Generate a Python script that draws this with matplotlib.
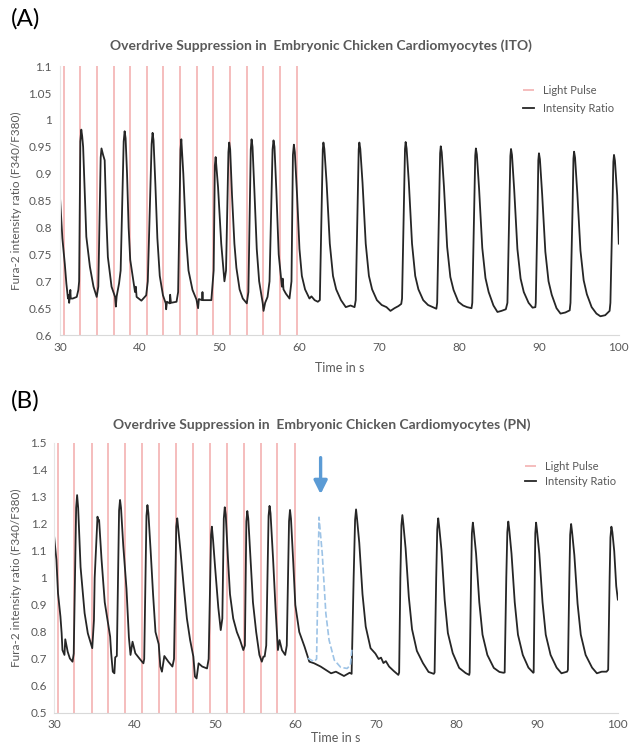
import matplotlib
matplotlib.use('Agg')
import matplotlib.pyplot as plt

plt.rcParams['font.family'] = ['Lato', 'DejaVu Sans']

# light pulse times (s)
pulses_a = [30.5, 32.54, 34.63, 36.71, 38.79, 40.88, 42.96, 45.04, 47.13, 49.21,
            51.29, 53.38, 55.46, 57.54, 59.63]
pulses_b = [30.49, 32.54, 34.71, 36.76, 38.81, 40.94, 43.03, 45.16, 47.29, 49.34,
            51.43, 53.56, 55.65, 57.74, 59.87]

# panel A (ITO) trace
time_a = [30.0, 30.3, 30.6, 30.8, 31.0, 31.1, 31.15, 31.3, 31.35, 31.6, 32.1, 32.3, 32.4,
          32.55, 32.67, 32.78, 32.9, 33.1, 33.3, 33.75, 34.2, 34.6, 34.8, 35.1, 35.2, 35.4,
          35.6, 35.8, 36.0, 36.46, 36.9, 37.0, 37.1, 37.4, 37.6, 37.98, 38.1, 38.22, 38.4,
          38.6, 38.8, 39.2, 39.4, 39.5, 39.6, 40.2, 40.8, 41.0, 41.48, 41.6, 41.72, 41.95,
          42.2, 42.5, 42.9, 43.25, 43.3, 43.4, 43.75, 43.8, 43.9, 44.6, 44.8, 45.1, 45.2,
          45.45, 45.8, 46.1, 46.6, 47.1, 47.3, 47.4, 47.8, 47.85, 47.9, 48.96, 49.25, 49.4,
          49.5, 49.8, 50.2, 50.6, 50.8, 51.1, 51.2, 51.32, 51.55, 51.85, 52.1, 52.5, 52.9,
          53.4, 53.6, 53.9, 54.0, 54.12, 54.35, 54.65, 54.95, 55.4, 55.5, 55.7, 56.0, 56.25,
          56.63, 56.75, 56.87, 57.1, 57.4, 57.7, 57.8, 57.9, 58.0, 58.3, 58.75, 59.0, 59.18,
          59.3, 59.42, 59.7, 60.0, 60.3, 60.7, 61.25, 61.5, 61.9, 62.3,
          62.55, 62.8, 62.92, 63.0, 63.12, 63.4, 63.8, 64.2, 64.6, 65.2, 65.8, 66.4, 66.9,
          67.05, 67.3, 67.42, 67.5, 67.62, 67.9, 68.3, 68.7, 69.1, 69.7, 70.3, 70.9, 71.4,
          71.9, 72.4, 72.75,
          72.85, 73.1, 73.22, 73.3, 73.42, 73.7, 74.1, 74.5, 74.9, 75.5, 76.1, 76.7, 77.15,
          77.25, 77.5, 77.62, 77.7, 77.82, 78.1, 78.5, 78.9, 79.3, 79.9, 80.5, 81.0, 81.55,
          81.65, 81.9, 82.02, 82.1, 82.22, 82.5, 82.9, 83.3, 83.7, 84.3, 84.8, 85.3, 85.85,
          86.05, 86.3, 86.42, 86.5, 86.62, 86.9, 87.3, 87.7, 88.1, 88.7, 89.2, 89.55,
          89.6, 89.82, 89.92, 90.0, 90.12, 90.4, 90.8, 91.2, 91.6, 92.2, 92.7, 93.3, 93.85,
          93.95, 94.2, 94.32, 94.4, 94.52, 94.8, 95.2, 95.6, 96.0, 96.6, 97.2, 97.7, 98.3, 98.85,
          98.95, 99.2, 99.32, 99.4, 99.52, 99.8, 100.0]
ratio_a = [0.857, 0.78, 0.733, 0.696, 0.668, 0.675, 0.66, 0.684, 0.668, 0.668, 0.671, 0.684, 0.70,
           0.96, 0.982, 0.97, 0.95, 0.864, 0.783, 0.727, 0.69, 0.671, 0.69, 0.93, 0.947, 0.935,
           0.925, 0.82, 0.745, 0.69, 0.671, 0.653, 0.672, 0.696, 0.72, 0.96, 0.979, 0.966, 0.9,
           0.8, 0.74, 0.70, 0.68, 0.69, 0.671, 0.664, 0.674, 0.70, 0.955, 0.976, 0.962, 0.88,
           0.78, 0.71, 0.674, 0.659, 0.648, 0.662, 0.659, 0.675, 0.66, 0.662, 0.68, 0.945, 0.964,
           0.9, 0.78, 0.72, 0.684, 0.666, 0.650, 0.667, 0.665, 0.68, 0.665, 0.665, 0.72, 0.915,
           0.931, 0.875, 0.77, 0.70, 0.72, 0.94, 0.958, 0.945, 0.86, 0.77, 0.725, 0.685, 0.668,
           0.659, 0.68, 0.945, 0.964, 0.95, 0.87, 0.76, 0.70, 0.659, 0.645, 0.66, 0.671, 0.70,
           0.945, 0.962, 0.95, 0.87, 0.75, 0.705, 0.69, 0.705, 0.685, 0.677, 0.668, 0.70, 0.935,
           0.954, 0.94, 0.86, 0.76, 0.71, 0.685, 0.668, 0.672, 0.665, 0.662,
           0.665, 0.85, 0.945, 0.958, 0.946, 0.883, 0.77, 0.71, 0.685, 0.665, 0.652, 0.655, 0.652,
           0.665, 0.85, 0.945, 0.958, 0.946, 0.883, 0.77, 0.71, 0.685, 0.665, 0.656, 0.652, 0.645,
           0.65, 0.654, 0.658,
           0.668, 0.85, 0.946, 0.959, 0.947, 0.884, 0.77, 0.71, 0.685, 0.665, 0.656, 0.652, 0.649,
           0.66, 0.845, 0.938, 0.951, 0.94, 0.876, 0.764, 0.708, 0.684, 0.662, 0.655, 0.652, 0.65,
           0.66, 0.84, 0.934, 0.947, 0.936, 0.872, 0.762, 0.706, 0.68, 0.655, 0.643, 0.645, 0.648,
           0.66, 0.84, 0.933, 0.946, 0.935, 0.87, 0.76, 0.705, 0.68, 0.66, 0.651, 0.652,
           0.66, 0.83, 0.925, 0.938, 0.927, 0.862, 0.755, 0.70, 0.675, 0.65, 0.64, 0.642, 0.646,
           0.66, 0.83, 0.928, 0.941, 0.93, 0.865, 0.757, 0.702, 0.676, 0.652, 0.64, 0.635, 0.637, 0.645,
           0.66, 0.83, 0.922, 0.935, 0.924, 0.86, 0.77]

# panel B (PN) trace
time_b = [30.0, 30.3, 30.5, 30.8, 30.95, 31.05, 31.3, 31.4, 31.7, 31.97, 32.3, 32.45, 32.75,
          32.87, 33.0, 33.3, 33.45, 33.8, 34.2, 34.75, 34.96, 35.05, 35.4, 35.5, 35.6, 35.9, 36.3,
          36.7, 36.97, 37.1, 37.3, 37.5, 37.6, 37.8, 38.08, 38.2, 38.32, 38.6, 39.0, 39.3, 39.5,
          39.75, 40.1, 40.6, 41.1, 41.2, 41.48, 41.6, 41.72, 42.0, 42.3, 42.6, 43.0, 43.2, 43.4,
          43.7, 44.2, 44.7, 44.9, 45.18, 45.3, 45.7, 46.1, 46.5, 46.9, 47.3, 47.5, 47.7, 47.95,
          48.4, 49.0, 49.2, 49.5, 49.6, 49.75, 50.0, 50.4, 50.7, 50.9, 51.08, 51.2, 51.32, 51.6,
          51.85, 52.25, 52.7, 53.1, 53.5, 53.7, 53.88, 54.0, 54.12, 54.4, 54.7, 55.1, 55.5, 55.8,
          56.0, 56.15, 56.35, 56.64, 56.76, 56.88, 57.2, 57.5, 57.8, 58.0, 58.3, 58.7, 58.9,
          59.18, 59.3, 59.42, 59.7, 59.96, 60.45, 61.1, 61.7, 62.3, 63.1, 64.4, 65.0, 66.0,
          66.7, 66.95,
          67.2, 67.38, 67.5, 67.62, 67.9, 68.3, 68.7, 69.3, 69.9, 70.3, 70.6, 70.9, 71.2, 71.6,
          72.2, 72.75,
          72.85, 73.0, 73.13, 73.25, 73.37, 73.65, 74.05, 74.45, 75.05, 75.8, 76.5, 77.15,
          77.25, 77.45, 77.58, 77.7, 77.82, 78.1, 78.5, 78.9, 79.5, 80.3, 81.1, 81.55,
          81.6, 81.78, 81.88, 82.0, 82.12, 82.4, 82.8, 83.2, 83.8, 84.6, 85.3, 85.8,
          85.95, 86.15, 86.28, 86.4, 86.52, 86.8, 87.2, 87.6, 88.2, 88.9, 89.5,
          89.55, 89.68, 89.75, 89.85, 89.97, 90.25, 90.65, 91.05, 91.65, 92.4, 93.0, 93.7,
          93.8, 93.98, 94.08, 94.2, 94.32, 94.6, 95.0, 95.4, 96.0, 96.8, 97.4, 98.0, 98.6,
          98.8, 98.98, 99.08, 99.2, 99.32, 99.55, 99.8, 100.0]
ratio_b = [1.159, 1.067, 0.943, 0.857, 0.795, 0.733, 0.715, 0.773, 0.727, 0.702, 0.690, 0.72, 1.26,
           1.307, 1.26, 1.04, 0.99, 0.87, 0.795, 0.740, 0.844, 1.0, 1.227, 1.21, 1.215, 1.07, 0.91,
           0.835, 0.783, 0.721, 0.653, 0.647, 0.706, 0.711, 1.25, 1.289, 1.26, 1.12, 0.96, 0.78, 0.715,
           0.764, 0.721, 0.702, 0.684, 0.70, 1.23, 1.270, 1.24, 1.10, 0.94, 0.80, 0.755, 0.672, 0.653,
           0.711, 0.690, 0.672, 0.70, 1.19, 1.221, 1.10, 0.97, 0.85, 0.77, 0.709, 0.635, 0.628, 0.684,
           0.672, 0.665, 0.70, 1.16, 1.190, 1.14, 1.04, 0.89, 0.807, 0.85, 1.22, 1.262, 1.235, 1.07,
           0.94, 0.85, 0.80, 0.770, 0.733, 0.75, 1.21, 1.248, 1.22, 1.07, 0.91, 0.80, 0.715, 0.690,
           0.709, 0.709, 0.75, 1.23, 1.267, 1.24, 1.07, 0.89, 0.733, 0.770, 0.733, 0.715, 0.75,
           1.21, 1.252, 1.22, 1.06, 0.90, 0.80, 0.746, 0.690, 0.684, 0.672, 0.647, 0.653, 0.637,
           0.649, 0.645,
           1.0, 1.215, 1.254, 1.22, 1.13, 0.94, 0.82, 0.74, 0.72, 0.70, 0.705, 0.685, 0.692, 0.672,
           0.655, 0.641,
           0.65, 1.0, 1.195, 1.233, 1.2, 1.11, 0.93, 0.81, 0.73, 0.685, 0.652, 0.645,
           0.65, 1.0, 1.18, 1.221, 1.19, 1.104, 0.919, 0.796, 0.722, 0.667, 0.648, 0.641,
           0.65, 1.0, 1.165, 1.205, 1.175, 1.09, 0.91, 0.79, 0.715, 0.667, 0.652, 0.649,
           0.65, 1.0, 1.17, 1.209, 1.18, 1.09, 0.91, 0.79, 0.715, 0.668, 0.649,
           0.65, 1.0, 1.165, 1.205, 1.175, 1.09, 0.91, 0.79, 0.715, 0.668, 0.647, 0.653,
           0.66, 1.0, 1.16, 1.2, 1.17, 1.085, 0.905, 0.79, 0.715, 0.668, 0.647, 0.653, 0.653,
           0.66, 1.0, 1.15, 1.19, 1.17, 1.1, 0.97, 0.92]

# expected (missing) beat, blue dashed
ghost_t = [61.5, 62.0, 62.3, 62.6, 62.9, 63.3, 63.75, 64.15, 64.8, 65.6, 66.4, 66.8, 67.0]
ghost_v = [0.703, 0.695, 0.690, 0.70, 1.225, 1.091, 0.869, 0.770, 0.696, 0.669, 0.665, 0.678, 0.740]
arrow_x, arrow_top, arrow_tip = 63.1, 1.456, 1.30

gray = '#595959'
pulse_col = '#f4b8b8'
trace_col = '#262626'

fig = plt.figure(figsize=(6.3, 7.48), dpi=100)


def setup(ax, ylim, yticks, lx, tickpad_y, tickpad_x):
    ax.set_xlim(30, 100)
    ax.set_ylim(*ylim)
    ax.set_xticks([30, 40, 50, 60, 70, 80, 90, 100])
    ax.set_yticks(yticks)
    ax.set_yticklabels(['%g' % v for v in yticks])
    ax.tick_params(length=0, labelsize=8.5, colors=gray)
    ax.tick_params(axis='y', pad=tickpad_y)
    ax.tick_params(axis='x', pad=tickpad_x)
    for s in ['top', 'right']:
        ax.spines[s].set_visible(False)
    ax.spines['bottom'].set_color('#d9d9d9')
    ax.spines['left'].set_color('#e6e6e6')
    ax.set_ylabel('Fura-2 intensity ratio (F340/F380)', fontsize=8.5, color=gray)
    ax.yaxis.set_label_coords(lx, 0.5)
    ax.set_xlabel('Time in s', fontsize=9, color=gray)


# ---- panel A
ax1 = fig.add_axes([0.0952, 0.552, 0.887, 0.3596])
ax1.vlines(pulses_a, 0.6, 1.1, color=pulse_col, lw=1.3, label='Light Pulse')
ax1.plot(time_a, ratio_a, color=trace_col, lw=1.3, label='Intensity Ratio')
yt_a = [0.6, 0.65, 0.7, 0.75, 0.8, 0.85, 0.9, 0.95, 1.0, 1.05, 1.1]
setup(ax1, (0.6, 1.1), yt_a, -0.068, 6, 5)
ax1.xaxis.set_label_coords(0.5, -0.1)
ax1.legend(loc='upper left', bbox_to_anchor=(0.8185, 0.95), frameon=False,
           fontsize=8, handlelength=1.0, handletextpad=0.8, borderpad=0,
           labelspacing=0.65, labelcolor=gray)
fig.text(321 / 630, 1 - 46 / 748, 'Overdrive Suppression in  Embryonic Chicken Cardiomyocytes (ITO)',
         ha='center', va='center', fontsize=10, fontweight='bold', color=gray)
fig.text(11 / 630, 1 - 19 / 748, '(A)', ha='left', va='center', fontsize=17.5)

# ---- panel B
ax2 = fig.add_axes([0.0857, 0.0468, 0.895, 0.361])
ax2.vlines(pulses_b, 0.5, 1.5, color=pulse_col, lw=1.3, label='Light Pulse')
ax2.plot(time_b, ratio_b, color=trace_col, lw=1.3, label='Intensity Ratio')
ax2.plot(ghost_t, ghost_v, color='#9dc3e6', lw=1.2, ls='--')
ax2.annotate('', xy=(arrow_x, arrow_tip), xytext=(arrow_x, arrow_top),
             arrowprops=dict(arrowstyle='-|>,head_width=0.4,head_length=0.8',
                             color='#5b9bd5', lw=2.4))
yt_b = [0.5, 0.6, 0.7, 0.8, 0.9, 1.0, 1.1, 1.2, 1.3, 1.4, 1.5]
setup(ax2, (0.5, 1.5), yt_b, -0.056, 5, 4)
ax2.xaxis.set_label_coords(0.5, -0.072)
ax2.legend(loc='upper left', bbox_to_anchor=(0.825, 0.955), frameon=False,
           fontsize=8, handlelength=1.0, handletextpad=0.8, borderpad=0,
           labelspacing=0.35, labelcolor=gray)
fig.text(322 / 630, 1 - 425 / 748, 'Overdrive Suppression in  Embryonic Chicken Cardiomyocytes (PN)',
         ha='center', va='center', fontsize=10, fontweight='bold', color=gray)
fig.text(11 / 630, 1 - 401 / 748, '(B)', ha='left', va='center', fontsize=17.5)

fig.savefig('out.png', dpi=100)
